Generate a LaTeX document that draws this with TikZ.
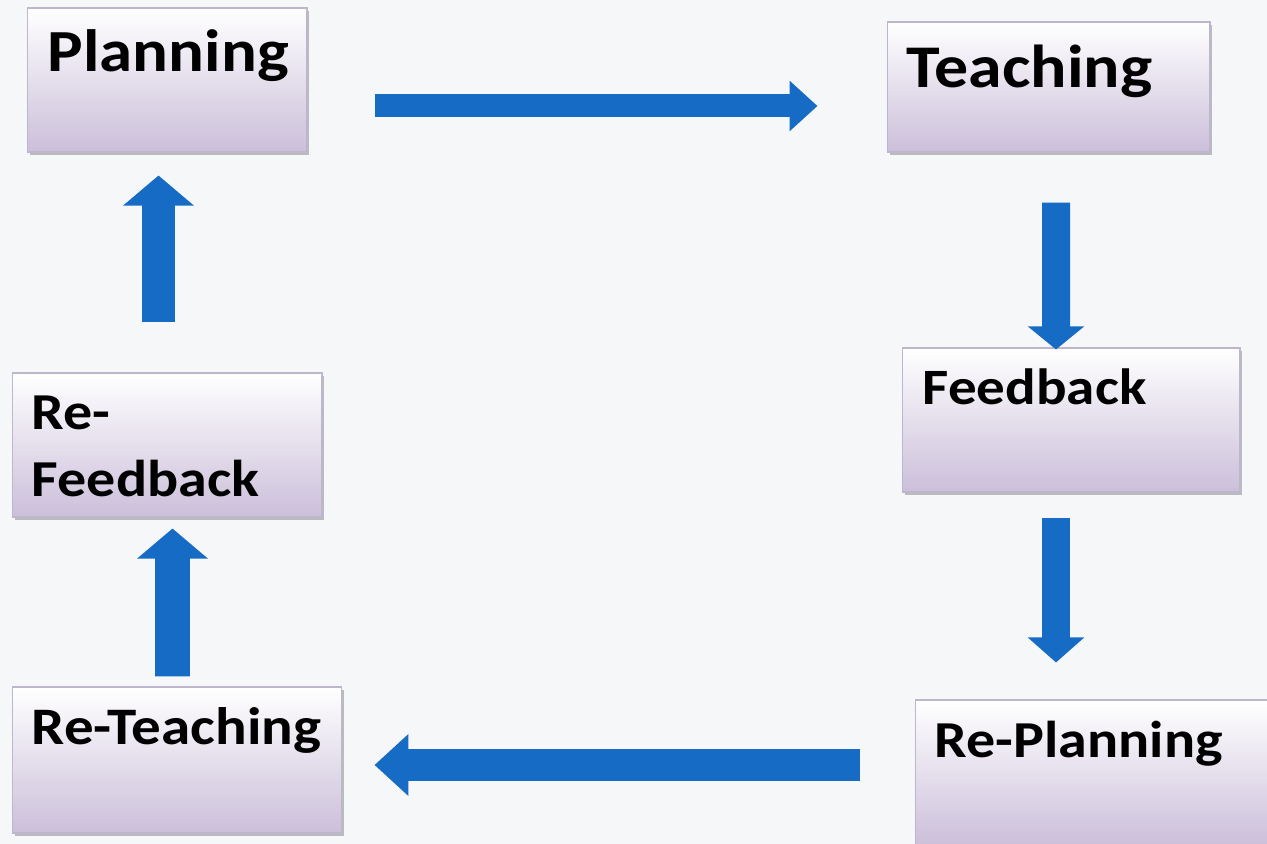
\documentclass[tikz,border=0pt]{standalone}
\usepackage{fontspec}
\setmainfont{Carlito}[FakeStretch=1.12]
\usetikzlibrary{arrows.meta, shadows}

\definecolor{pagebg}{RGB}{246,247,249}
\definecolor{boxedge}{RGB}{190,182,205}
\definecolor{boxlow}{RGB}{203,191,218}
\definecolor{arrowblue}{RGB}{22,108,196}

\begin{document}
\begin{tikzpicture}[x=0.02cm, y=-0.02cm,
	stage/.style={draw=boxedge, line width=0.6pt, inner sep=0pt, top color=white, bottom color=boxlow,
		drop shadow={shadow xshift=0.05cm, shadow yshift=-0.06cm, fill=black!50, opacity=0.5}},
	tag/.style={anchor=base west, inner sep=0pt, align=left, font=\bfseries\fontsize{#1}{38.1}\selectfont},
	flow/.style={draw=arrowblue, line cap=butt}
	]
	\path[use as bounding box, fill=pagebg] (0,0) rectangle (1267,844);
	\clip (0,0) rectangle (1267,844);

	\node[stage, minimum width=5.60cm, minimum height=2.88cm] (planning) at (167,80) {};
	\node[stage, minimum width=6.46cm, minimum height=2.60cm] (teaching) at (1048.5,87) {};
	\node[stage, minimum width=6.76cm, minimum height=2.88cm] (feedback) at (1071,420) {};
	\node[stage, minimum width=7.50cm, minimum height=2.92cm] (replanning) at (1102.5,773) {};
	\node[stage, minimum width=6.60cm, minimum height=2.92cm] (reteaching) at (177,760) {};
	\node[stage, minimum width=6.20cm, minimum height=2.88cm] (refeedback) at (167,445) {};

	\node[tag=34] (planningtxt) at ([shift={(21,64)}]planning.north west) {Planning};
	\node[tag=34.5] (teachingtxt) at ([shift={(20,66)}]teaching.north west) {Teaching};
	\node[tag=29] (feedbacktxt) at ([shift={(21,57)}]feedback.north west) {Feedback};
	\node[tag=29.5] (replanningtxt) at ([shift={(20,58)}]replanning.north west) {Re-Planning};
	\node[tag=30] (reteachingtxt) at ([shift={(20,58)}]reteaching.north west) {Re-Teaching};
	\node[tag=29.5] (refeedbacktxt) at ([shift={(20,124)}]refeedback.north west) {Re-\\Feedback};

	\draw[flow, line width=0.46cm, -{Triangle[length=0.56cm, width=0.98cm]}] ([shift={(67,26)}]planning.east) -- ([shift={(-69,19)}]teaching.west);
	\draw[flow, line width=0.56cm, -{Triangle[length=0.46cm, width=1.10cm]}] ([shift={(7.5,50)}]teaching.south) -- ([shift={(-15,2)}]feedback.north);
	\draw[flow, line width=0.56cm, -{Triangle[length=0.50cm, width=1.10cm]}] ([shift={(-15,25)}]feedback.south) -- ([shift={(-46.5,-37)}]replanning.north);
	\draw[flow, line width=0.64cm, -{Triangle[length=0.68cm, width=1.20cm]}] ([shift={(-55,-8)}]replanning.west) -- ([shift={(32,5)}]reteaching.east);
	\draw[flow, line width=0.70cm, -{Triangle[length=0.60cm, width=1.38cm]}] ([shift={(-4.5,-10)}]reteaching.north) -- ([shift={(5.5,11)}]refeedback.south);
	\draw[flow, line width=0.66cm, -{Triangle[length=0.60cm, width=1.38cm]}] ([shift={(-8.5,-50)}]refeedback.north) -- ([shift={(-8.5,23)}]planning.south);
\end{tikzpicture}
\end{document}
